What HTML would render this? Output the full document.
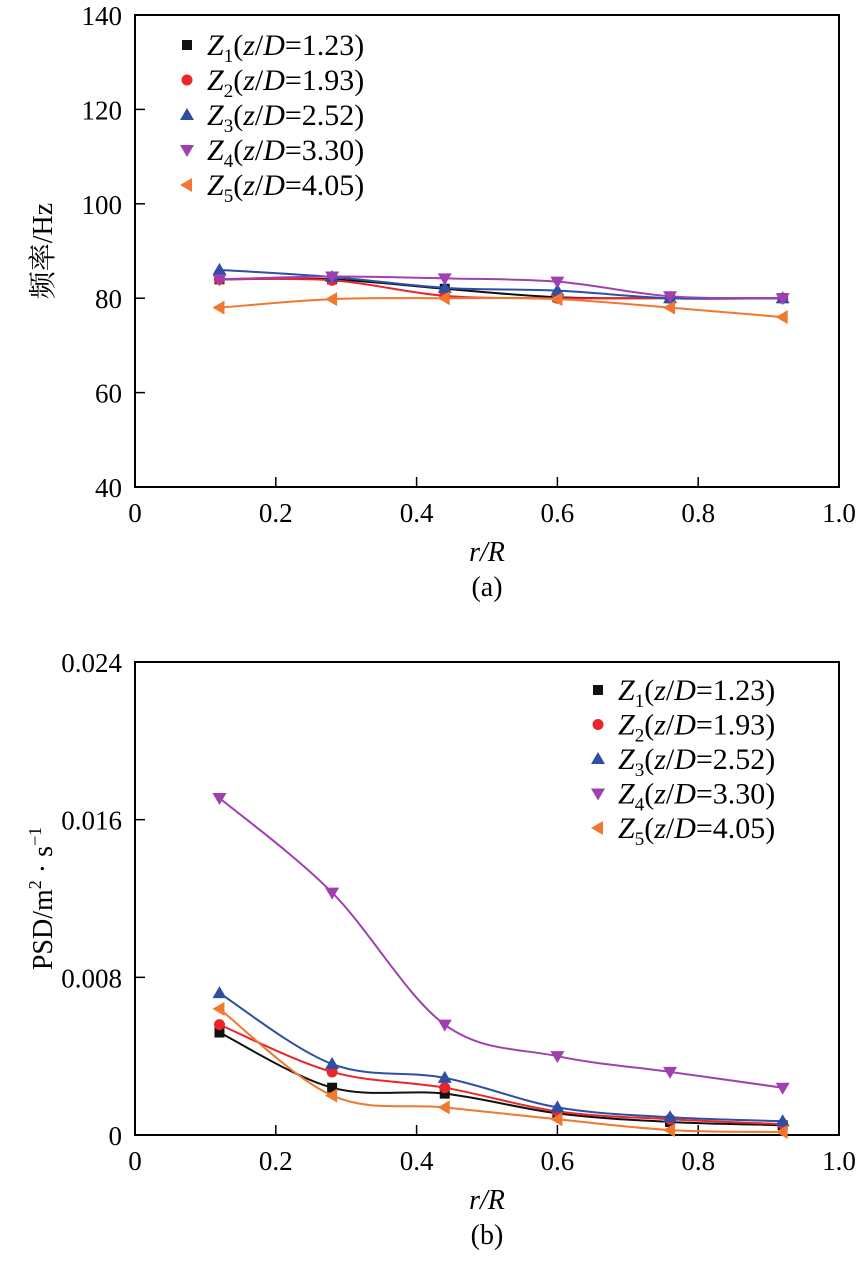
<!DOCTYPE html>
<html><head><meta charset="utf-8">
<style>
html,body{margin:0;padding:0;background:#fff;}
svg{display:block;font-family:"Liberation Serif","Noto Serif CJK SC",serif;}
</style></head>
<body>
<svg id="chart" width="865" height="1262" viewBox="0 0 865 1262" xmlns="http://www.w3.org/2000/svg"></svg>
<script>
const xValues = [0.12, 0.28, 0.44, 0.6, 0.76, 0.92];
const seriesNames = ["1", "2", "3", "4", "5"];
const seriesLabels = ["1.23", "1.93", "2.52", "3.30", "4.05"];
const freqZ1 = [84, 84, 82, 80.2, 80, 80];
const freqZ2 = [84, 83.8, 80.5, 80, 80, 80];
const freqZ3 = [86, 84.5, 82.2, 81.6, 80, 80];
const freqZ4 = [84, 84.6, 84.2, 83.5, 80.4, 80];
const freqZ5 = [78, 79.8, 80, 79.8, 78, 76];
const psdZ1 = [0.0052, 0.0024, 0.0021, 0.0011, 0.00066, 0.0005];
const psdZ2 = [0.0056, 0.0032, 0.0024, 0.0012, 0.0008, 0.00055];
const psdZ3 = [0.0072, 0.0036, 0.0029, 0.0014, 0.0009, 0.0007];
const psdZ4 = [0.0171, 0.0123, 0.0056, 0.0040, 0.0032, 0.0024];
const psdZ5 = [0.0064, 0.0020, 0.0014, 0.0008, 0.00025, 0.00015];
const xTicks = [0, 0.2, 0.4, 0.6, 0.8, 1.0];
const xTickLabels = ["0", "0.2", "0.4", "0.6", "0.8", "1.0"];
const freqTicks = [40, 60, 80, 100, 120, 140];
const psdTicks = [0, 0.008, 0.016, 0.024];
const psdTickLabels = ["0", "0.008", "0.016", "0.024"];

const colors = ["#111111", "#e8262b", "#2e4fa3", "#a040b0", "#f07830"];
const markers = ["square", "circle", "up", "down", "left"];
const NS = "http://www.w3.org/2000/svg";
const svg = document.getElementById('chart');
function mk(tag, attrs, parent) {
  const e = document.createElementNS(NS, tag);
  for (const k in attrs) e.setAttribute(k, attrs[k]);
  (parent || svg).appendChild(e);
  return e;
}
function marker(g, type, x, y, c) {
  let e;
  if (type === "square") e = mk('rect', {x: x-5, y: y-5, width: 10, height: 10, fill: c}, g);
  else if (type === "circle") e = mk('circle', {cx: x, cy: y, r: 5.5, fill: c}, g);
  else if (type === "up") e = mk('polygon', {points: `${x},${y-7} ${x-7},${y+5} ${x+7},${y+5}`, fill: c}, g);
  else if (type === "down") e = mk('polygon', {points: `${x},${y+7} ${x-7},${y-5} ${x+7},${y-5}`, fill: c}, g);
  else e = mk('polygon', {points: `${x-7},${y} ${x+5},${y-7} ${x+5},${y+7}`, fill: c}, g);
  return e;
}
function smooth(pts) {
  let d = `M${pts[0][0]},${pts[0][1]}`;
  for (let i = 0; i < pts.length - 1; i++) {
    const p0 = pts[Math.max(0, i-1)], p1 = pts[i], p2 = pts[i+1], p3 = pts[Math.min(pts.length-1, i+2)];
    const c1x = p1[0] + (p2[0]-p0[0])/6, c1y = p1[1] + (p2[1]-p0[1])/6;
    const c2x = p2[0] - (p3[0]-p1[0])/6, c2y = p2[1] - (p3[1]-p1[1])/6;
    d += ` C${c1x},${c1y} ${c2x},${c2y} ${p2[0]},${p2[1]}`;
  }
  return d;
}
function legend(g, x0, y0, rowH) {
  for (let i = 0; i < 5; i++) {
    const y = y0 + i*rowH;
    const le = mk('g', {}, g);
    
    
    marker(le, markers[i], x0, y, colors[i]);
    const t = mk('text', {x: x0+20, y: y+10, 'font-size': 30}, le);
    t.innerHTML = `<tspan font-style="italic">Z</tspan><tspan font-size="19" dy="7">${seriesNames[i]}</tspan><tspan dy="-7">(</tspan><tspan font-style="italic">z</tspan>/<tspan font-style="italic">D</tspan>=${seriesLabels[i]})`;
  }
}
function chart(opts) {
  const {name, top, bottom, yMin, yMax, yTicks, yLabels, series, ylabel, caption, legX, legY, legH} = opts;
  const L = 135, R = 839;
  const g = mk('g', {});
  
  
  const sx = v => L + (v - 0) / 1.0 * (R - L);
  const sy = v => bottom - (v - yMin) / (yMax - yMin) * (bottom - top);
  const frame = mk('rect', {x: L, y: top, width: R-L, height: bottom-top, fill: 'none', stroke: '#000', 'stroke-width': 2}, g);
  
  
  xTicks.forEach((v, i) => {
    const x = sx(v);
    if (i > 0 && i < xTicks.length-1) mk('line', {x1: x, x2: x, y1: bottom, y2: bottom-10, stroke: '#000', 'stroke-width': 1.5}, g);
    const t = mk('text', {x: x, y: bottom+35, 'font-size': 27, 'text-anchor': 'middle'}, g);
    
    
    t.textContent = xTickLabels[i];
  });
  yTicks.forEach((v, i) => {
    const y = sy(v);
    if (i > 0 && i < yTicks.length-1) mk('line', {x1: L, x2: L+10, y1: y, y2: y, stroke: '#000', 'stroke-width': 1.5}, g);
    const t = mk('text', {x: L-13, y: y+10, 'font-size': 27, 'text-anchor': 'end'}, g);
    
    
    t.textContent = yLabels[i];
  });
  series.forEach((vals, si) => {
    const sg = mk('g', {}, g);
    
    
    const pts = vals.map((v, i) => [sx(xValues[i]), sy(v)]);
    mk('path', {d: smooth(pts), fill: 'none', stroke: colors[si], 'stroke-width': 2}, sg);
    pts.forEach(p => {
      const m = marker(sg, markers[si], p[0], p[1], colors[si]);
      
      
    });
  });
  const xl = mk('text', {x: 487, y: bottom+74, 'font-size': 28, 'text-anchor': 'middle', 'font-style': 'italic'}, g);
  
  
  xl.textContent = 'r/R';
  const cap = mk('text', {x: 487, y: bottom+109, 'font-size': 28, 'text-anchor': 'middle'}, g);
  
  
  cap.textContent = caption;
  const yc = (top + bottom) / 2;
  const yl = mk('text', {x: 0, y: 0, 'font-size': 28, 'text-anchor': 'middle', transform: `translate(52,${yc}) rotate(-90)`}, g);
  
  
  yl.innerHTML = ylabel;
  const lg = mk('g', {}, g);
  
  
  legend(lg, legX, legY, legH);
}
chart({name: 'frequency-chart', top: 15, bottom: 487, yMin: 40, yMax: 140, yTicks: freqTicks,
  yLabels: freqTicks.map(String), series: [freqZ1, freqZ2, freqZ3, freqZ4, freqZ5],
  ylabel: '频率/Hz', caption: '(a)', legX: 187, legY: 45, legH: 35});
chart({name: 'psd-chart', top: 662, bottom: 1135, yMin: 0, yMax: 0.024, yTicks: psdTicks,
  yLabels: psdTickLabels, series: [psdZ1, psdZ2, psdZ3, psdZ4, psdZ5],
  ylabel: 'PSD/m<tspan font-size="18" dy="-11">2</tspan><tspan dy="11"> · s</tspan><tspan font-size="18" dy="-11">−1</tspan>',
  caption: '(b)', legX: 598, legY: 690, legH: 34.5});
</script>
</body></html>
